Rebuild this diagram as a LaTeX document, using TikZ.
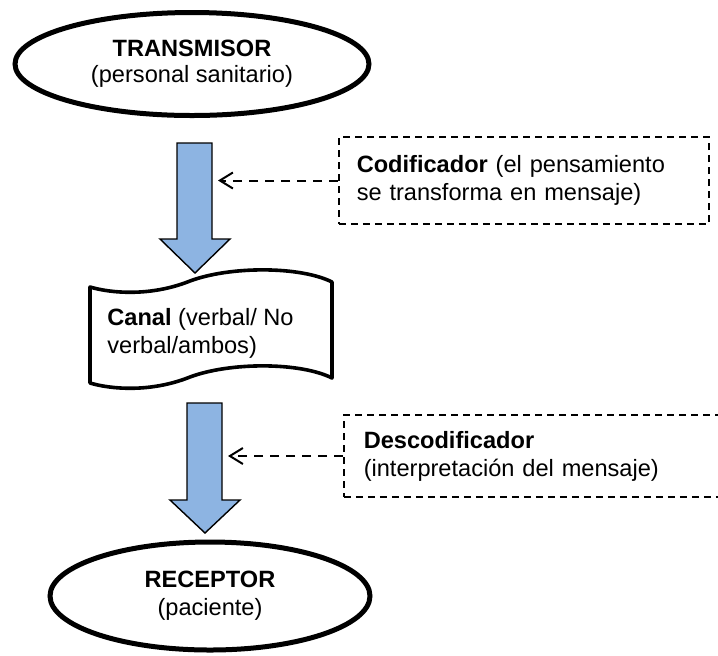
\documentclass[tikz,border=0pt]{standalone}
\usepackage{fontspec}
\setmainfont{Liberation Sans}
\usetikzlibrary{shapes.geometric,arrows.meta}
\definecolor{azulflecha}{RGB}{141,180,226}
\tikzset{
	elipse/.style={ellipse, draw, line width=2.5pt, align=center, inner sep=0pt},
	flecha/.style={fill=azulflecha, draw=black, line width=0.7pt, line join=miter},
	caja/.style={draw, dash pattern=on 3.5pt off 2.5pt, line width=0.75pt, align=left, anchor=west},
	punteada/.style={dash pattern=on 4.5pt off 3.5pt, line width=1pt, -{Straight Barb[length=6.5pt,width=8pt]}},
	cinta/.style={draw, line width=1.8pt, line join=round}
}
\begin{document}
\begin{tikzpicture}[x=0.5pt, y=-0.5pt, font=\fontsize{11.8pt}{14pt}\selectfont]
	\useasboundingbox (0,0) rectangle (718,655);
	\clip (0,0) rectangle (718,655);
	\node[elipse, minimum width=177pt, minimum height=51.5pt, font=\fontsize{11.8pt}{13pt}\selectfont] (trans) at (192,64) {\textbf{TRANSMISOR}\\(personal sanitario)};
	\node[elipse, minimum width=160pt, minimum height=54pt] (recep) at (210,596) {\textbf{RECEPTOR}\\(paciente)};
	\node[align=left, anchor=west, inner sep=0pt] (canal) at (107,333) {\textbf{Canal} (verbal/ No\\verbal/ambos)};
	\draw[cinta] (90,287) .. controls (110,293) and (150,297) .. (190,281) .. controls (230,266) and (300,266) .. (332,282)
		-- (332,378) .. controls (300,362) and (230,362) .. (190,377) .. controls (150,393) and (110,389) .. (90,383) -- cycle;
	\draw[flecha] (177,143) -- (212,143) -- (212,239) -- (230,239) -- (195,273) -- (160,239) -- (177,239) -- cycle;
	\draw[flecha] (187,403) -- (222,403) -- (222,500) -- (240,500) -- (205,533) -- (170,500) -- (187,500) -- cycle;
	\node[caja, text width=167pt, inner xsep=9pt, minimum height=43.5pt] (cod) at (338,180.5) {\textbf{Codificador} (el pensamiento\\se transforma en mensaje)};
	\node[caja, text width=180pt, inner xsep=10pt, minimum height=41pt] (descod) at (343,456) {\textbf{Descodificador}\\(interpretación del mensaje)};
	\coordinate (p1) at (218,177);
	\coordinate (p2) at (228,452);
	\draw[punteada] (cod.west) -- (cod.west -| p1);
	\draw[punteada] (descod.west) -- (descod.west -| p2);
\end{tikzpicture}
\end{document}
